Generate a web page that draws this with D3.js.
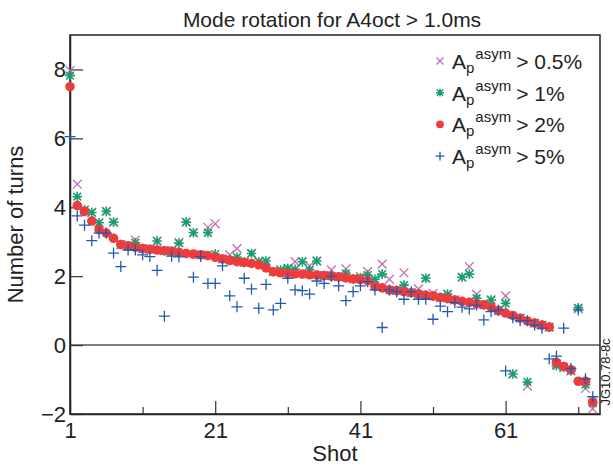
<!DOCTYPE html>
<html>
<head>
<meta charset="utf-8">
<script src="https://cdn.jsdelivr.net/npm/d3@7"></script>
<style>
  body { margin: 0; background: #fff; }
  text { font-family: "Liberation Sans", Arial, sans-serif; fill: #222; }
</style>
</head>
<body>
<div id="chart"></div>
<script>
// values per shot (index 0 = shot 1), number of turns
const p05 = [7.97, 4.67, 3.92, 3.85, 3.55, 3.88, 3.57, 2.92, 2.88, 3.05,
  2.8, 2.78, 3.02, 2.74, 2.72, 2.98, 3.57, 3.26, 2.62, 3.42,
  3.52, 2.5, 2.62, 2.8, 2.4, 2.66, 2.42, 2.44, 2.13, 2.18,
  2.23, 2.42, 2.42, 2.3, 2.44, 2.02, 2.18, 1.98, 2.21, 1.92,
  1.99, 2.13, 1.91, 2.35, 1.91, 1.58, 2.1, 1.52, 1.63, 1.94,
  1.5, 1.38, 1.48, 1.31, 1.97, 2.28, 1.47, 1.17, 1.31, 1.0,
  1.43, -0.84, 0.78, -1.19, 0.64, 0.58, 0.52, -0.55, -0.65, -0.75,
  1.05, -1.26, -1.85];
const p1 = [7.82, 4.31, 3.92, 3.85, 3.55, 3.88, 3.57, 2.92, 2.88, 2.97,
  2.8, 2.78, 3.02, 2.74, 2.72, 2.96, 3.57, 3.26, 2.62, 3.26,
  2.64, 2.5, 2.46, 2.55, 2.4, 2.66, 2.42, 2.44, 2.13, 2.18,
  2.23, 2.2, 2.42, 2.18, 2.44, 2.02, 2.0, 1.98, 2.08, 1.92,
  1.95, 2.03, 1.91, 2.06, 1.6, 1.58, 1.74, 1.52, 1.48, 1.94,
  1.42, 1.38, 1.48, 1.31, 1.97, 2.06, 1.36, 1.17, 1.31, 1.0,
  1.21, -0.84, 0.78, -1.07, 0.64, 0.58, 0.52, -0.6, -0.65, -0.75,
  1.08, -1.15, -1.68];
const p2 = [7.5, 4.05, 3.88, 3.6, 3.35, 3.25, 3.1, 2.92, 2.88, 2.84,
  2.8, 2.78, 2.76, 2.74, 2.72, 2.69, 2.66, 2.64, 2.62, 2.6,
  2.55, 2.5, 2.46, 2.42, 2.4, 2.37, 2.33, 2.24, 2.13, 2.1,
  2.08, 2.07, 2.06, 2.04, 2.03, 2.02, 2.0, 1.98, 1.95, 1.92,
  1.9, 1.87, 1.7, 1.66, 1.6, 1.58, 1.55, 1.52, 1.48, 1.45,
  1.42, 1.38, 1.35, 1.31, 1.27, 1.24, 1.2, 1.17, 1.1, 1.0,
  0.93, 0.86, 0.78, 0.7, 0.64, 0.58, 0.52, -0.5, -0.62, -0.72,
  -1.05, -1.05, -1.65];
const p5 = [6.05, 3.75, 3.48, 3.03, 3.25, 3.25, 2.67, 2.28, 2.76, 2.76,
  2.62, 2.57, 2.17, 0.84, 2.58, 2.56, null, 1.97, 2.57, 1.79,
  1.79, 2.3, 1.43, 1.11, 1.94, 1.63, 1.07, 1.76, 1.02, 1.21,
  1.94, 1.6, 1.58, 1.48, 1.86, 1.79, 2.0, 1.72, 1.29, 1.55,
  1.72, 1.84, 1.6, 0.51, 1.6, 1.55, 1.33, 1.55, 1.33, 1.33,
  0.75, 1.13, 0.97, 1.23, 1.1, 1.05, 1.16, 0.73, 0.97, 1.02,
  -0.75, 0.79, 0.71, 0.71, 0.58, 0.49, -0.4, -0.32, 0.49, -0.68,
  1.02, -0.98, -1.5];

const legendThresholds = ["0.5%", "1%", "2%", "5%"];
const xTicks = [1, 21, 41, 61];
const xMinorTicks = [11, 31, 51, 71];
const yTicks = [-2, 0, 2, 4, 6, 8];

const width = 613, height = 466;
const margin = { top: 35, right: 13, bottom: 52, left: 70 };

const svg = d3.select("#chart").append("svg")
  .attr("width", width)
  .attr("height", height);

const x = d3.scaleLinear().domain([1, 74]).range([margin.left, width - margin.right]);
const y = d3.scaleLinear().domain([-2, 9]).range([height - margin.bottom, margin.top]);

// zero line
svg.append("line")
  .attr("x1", x(1)).attr("x2", x(74))
  .attr("y1", y(0)).attr("y2", y(0))
  .attr("stroke", "#808080").attr("stroke-width", 2);

// axes
const fmt = d => d < 0 ? "\u2212" + Math.abs(d) : d;
svg.append("g")
  .attr("transform", `translate(0,${y(-2)})`)
  .call(d3.axisBottom(x).tickValues(xTicks).tickSize(-13).tickSizeOuter(0).tickPadding(8));
svg.append("g")
  .attr("transform", `translate(0,${y(-2)})`)
  .call(d3.axisBottom(x).tickValues(xMinorTicks).tickSize(-7).tickSizeOuter(0).tickFormat(""))
  .select(".domain").remove();
svg.append("g")
  .attr("transform", `translate(${x(1)},0)`)
  .call(d3.axisLeft(y).tickValues(yTicks).tickSize(-13).tickSizeOuter(0).tickPadding(4).tickFormat(fmt));

svg.selectAll(".tick text").style("font-size", "22px").style("font-family", '"Liberation Sans", Arial, sans-serif').attr("fill", "#222");
svg.selectAll(".tick line").attr("stroke", "#333").attr("stroke-width", 1.2);
svg.selectAll(".domain").attr("stroke", "#222").attr("stroke-width", 1.5);

// frame
svg.append("rect")
  .attr("x", x(1)).attr("y", y(9))
  .attr("width", x(74) - x(1)).attr("height", y(-2) - y(9))
  .attr("fill", "none").attr("stroke", "#222").attr("stroke-width", 1.5);

// marker shapes
const crossPath = h => `M${-h},${-h}L${h},${h}M${-h},${h}L${h},${-h}`;
const plusPath = h => `M${-h},0H${h}M0,${-h}V${h}`;
const starPath = h => crossPath(h * 0.8) + plusPath(h);

const series = [
  { vals: p05, color: "#c36cb2", kind: "cross" },
  { vals: p1, color: "#179e6e", kind: "star" },
  { vals: p2, color: "#ee3b3b", kind: "dot" },
  { vals: p5, color: "#2259b0", kind: "plus" }
];

function drawMarker(g, kind, color, cx, cy, s) {
  if (kind === "dot") {
    g.append("circle").attr("cx", cx).attr("cy", cy).attr("r", 4.8 * s).attr("fill", color);
  } else {
    const d = kind === "cross" ? crossPath(4.4 * s) : kind === "star" ? starPath(4.8 * s) : plusPath(5.5 * s);
    g.append("path").attr("d", d)
      .attr("transform", `translate(${cx},${cy})`)
      .attr("stroke", color).attr("stroke-width", kind === "star" ? 1.6 : 1.3)
      .attr("fill", "none");
  }
}

const marks = svg.append("g");
series.forEach(sr => {
  sr.vals.forEach((v, i) => {
    if (v === null) return;
    drawMarker(marks, sr.kind, sr.color, x(i + 1), y(v), 1);
  });
});

// title and axis labels
svg.append("text")
  .attr("x", 332).attr("y", 27)
  .attr("text-anchor", "middle")
  .style("font-size", "21px")
  .text("Mode rotation for A4oct > 1.0ms");

svg.append("text")
  .attr("x", 335).attr("y", 461)
  .attr("text-anchor", "middle")
  .style("font-size", "22px")
  .text("Shot");

svg.append("text")
  .attr("transform", `translate(23,${(y(9) + y(-2)) / 2}) rotate(-90)`)
  .attr("text-anchor", "middle")
  .style("font-size", "22px")
  .text("Number of turns");

svg.append("text")
  .attr("transform", "translate(610,372) rotate(-90)")
  .attr("text-anchor", "middle")
  .style("font-size", "13px")
  .text("JG10.78-8c");

// legend
const legend = svg.append("g");
series.forEach((sr, i) => {
  const cy = 61 + i * 31.7;
  drawMarker(legend, sr.kind, sr.color, 440, cy, 0.8);
  const t = legend.append("text").attr("x", 452).attr("y", cy + 8).style("font-size", "21px");
  t.append("tspan").text("A");
  t.append("tspan").attr("dy", 4).style("font-size", "15px").text("p");
  t.append("tspan").attr("dy", -14).attr("dx", 1).style("font-size", "15px").text("asym");
  t.append("tspan").attr("dy", 10).attr("dx", 5).text("> " + legendThresholds[i]);
});
</script>
</body>
</html>
